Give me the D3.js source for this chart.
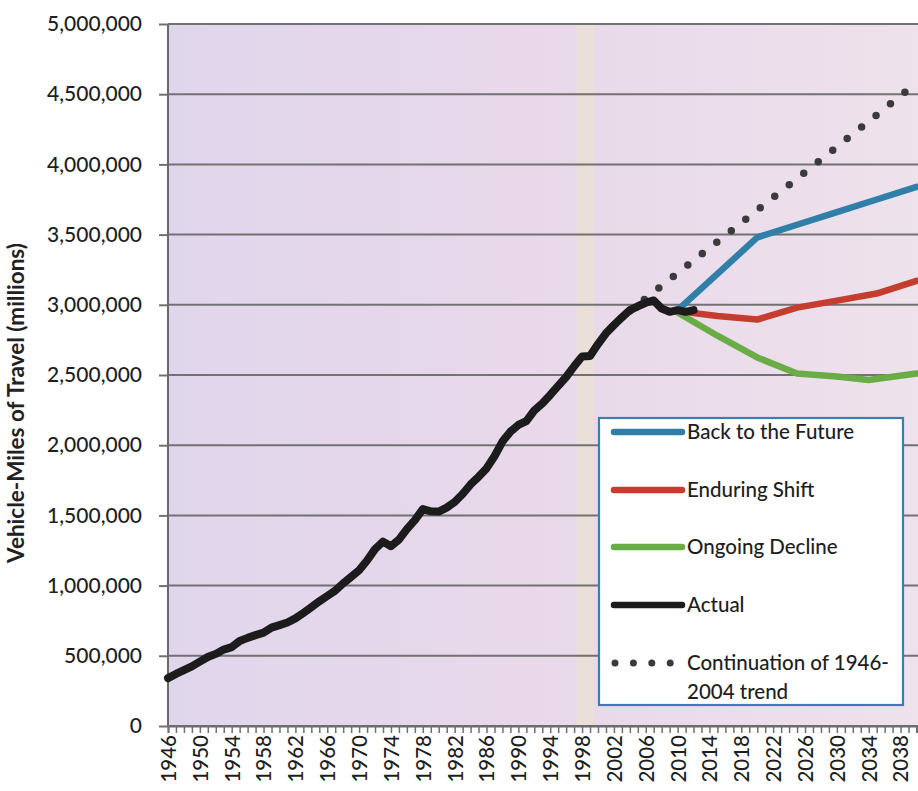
<!DOCTYPE html>
<html>
<head>
<meta charset="utf-8">
<script src="https://cdn.jsdelivr.net/npm/d3@7"></script>
<style>
  html, body { margin: 0; padding: 0; background: #ffffff; }
  svg { display: block; font-family: Lato, "Open Sans", sans-serif; }
</style>
</head>
<body>
<svg id="chart" width="918" height="791"></svg>
<script>
// Annual vehicle-miles of travel, United States (millions)
const actualYears = [
  1946, 1947, 1948, 1949, 1950, 1951, 1952, 1953, 1954, 1955,
  1956, 1957, 1958, 1959, 1960, 1961, 1962, 1963, 1964, 1965,
  1966, 1967, 1968, 1969, 1970, 1971, 1972, 1973, 1974, 1975,
  1976, 1977, 1978, 1979, 1980, 1981, 1982, 1983, 1984, 1985,
  1986, 1987, 1988, 1989, 1990, 1991, 1992, 1993, 1994, 1995,
  1996, 1997, 1998, 1999, 2000, 2001, 2002, 2003, 2004, 2005,
  2006, 2007, 2008, 2009, 2010, 2011, 2012
];
const actualValues = [
  340881, 370894, 397957, 424461, 458246, 491093, 513581, 544433, 561963, 605646,
  627843, 647004, 664653, 700480, 718762, 737421, 766734, 805249, 846298, 887812,
  925899, 964005, 1015869, 1061791, 1109724, 1178811, 1259786, 1313110, 1280544, 1327664,
  1402380, 1467027, 1544704, 1529133, 1527295, 1555308, 1595010, 1652788, 1720269, 1774826,
  1834872, 1921204, 2025962, 2096487, 2144362, 2172050, 2247151, 2296378, 2357588, 2422696,
  2485848, 2561695, 2631522, 2636000, 2720000, 2797287, 2855508, 2910000, 2962000, 2989430,
  3014371, 3031124, 2973000, 2950000, 2962000, 2950000, 2962000
];

// Scenario projections
const backYears = [2010, 2015, 2020, 2025, 2030, 2035, 2040];
const backValues = [2962000, 3220000, 3480000, 3570000, 3660000, 3750000, 3840000];

const shiftYears = [2010, 2015, 2020, 2025, 2030, 2035, 2040];
const shiftValues = [2955000, 2920000, 2895000, 2980000, 3030000, 3080000, 3170000];

const declineYears = [2010, 2015, 2020, 2025, 2030, 2034, 2040];
const declineValues = [2945000, 2780000, 2625000, 2510000, 2490000, 2465000, 2510000];

// Straight-line continuation of the 1946-2004 growth
const trendYears = [2004, 2010, 2020, 2030, 2040];
const trendValues = [2955000, 3225000, 3675000, 4125000, 4580000];

// Axis labels
const yTicks = [0, 500000, 1000000, 1500000, 2000000, 2500000, 3000000, 3500000, 4000000, 4500000, 5000000];
const xLabelYears = [1946, 1950, 1954, 1958, 1962, 1966, 1970, 1974, 1978, 1982, 1986, 1990,
                     1994, 1998, 2002, 2006, 2010, 2014, 2018, 2022, 2026, 2030, 2034, 2038];
const xTickYears = d3.range(1946, 2041);

const seriesNames = ["Back to the Future", "Enduring Shift", "Ongoing Decline", "Actual"];
const seriesColors = ["#2f7fa9", "#c43d2f", "#6aad47", "#1c1c1c"];
const trendName = ["Continuation of 1946-", "2004 trend"];

const svg = d3.select("#chart");

const plotLeft = 168, plotTop = 24, plotBottom = 726, plotRight = 930;
const x = d3.scaleLinear().domain([1946, 2040]).range([168, 916.5]);
const y = d3.scaleLinear().domain([0, 5000000]).range([plotBottom, plotTop]);

// Plot background
const defs = svg.append("defs");
const grad = defs.append("linearGradient").attr("id", "bg").attr("x1", "0").attr("x2", "1").attr("y1", "0").attr("y2", "0");
grad.append("stop").attr("offset", "0").attr("stop-color", "#e0d6ec");
grad.append("stop").attr("offset", "0.45").attr("stop-color", "#e8d8ea");
grad.append("stop").attr("offset", "1").attr("stop-color", "#eee2ec");

svg.append("rect")
  .attr("x", plotLeft).attr("y", plotTop)
  .attr("width", plotRight - plotLeft).attr("height", plotBottom - plotTop)
  .attr("fill", "url(#bg)");

// pale yellow column near the end of the 1990s
svg.append("rect")
  .attr("x", x(1997.3)).attr("y", plotTop)
  .attr("width", x(1999.5) - x(1997.3)).attr("height", plotBottom - plotTop)
  .attr("fill", "#f3eab2").attr("opacity", 0.3);

// Horizontal gridlines + y axis
const yAxis = d3.axisLeft(y)
  .tickValues(yTicks)
  .tickSize(9)
  .tickPadding(17)
  .tickFormat(d3.format(","));

const gy = svg.append("g").attr("transform", `translate(${plotLeft},0)`).call(yAxis);
gy.select(".domain").remove();
gy.selectAll(".tick line").attr("stroke", "#707070").attr("stroke-width", 2);
gy.selectAll(".tick text")
  .attr("fill", "#1e1e1e")
  .style("font-size", "21px")
  .style("font-weight", "500")
  .style("font-family", "Lato, 'Open Sans', sans-serif");

svg.append("g").selectAll("line").data(yTicks).join("line")
  .attr("x1", plotLeft).attr("x2", plotRight)
  .attr("y1", d => y(d)).attr("y2", d => y(d))
  .attr("stroke", "#727272").attr("stroke-width", 2);

svg.append("line")
  .attr("x1", plotLeft).attr("x2", plotLeft)
  .attr("y1", plotTop).attr("y2", plotBottom)
  .attr("stroke", "#6a6a6a").attr("stroke-width", 2);

// X axis: a tick for every year, labels every fourth year
const xAxis = d3.axisBottom(x)
  .tickValues(xTickYears)
  .tickSize(7)
  .tickFormat(d => xLabelYears.includes(d) ? String(d) : "");

const gx = svg.append("g").attr("transform", `translate(0,${plotBottom})`).call(xAxis);
gx.select(".domain").attr("stroke", "#6a6a6a").attr("stroke-width", 2);
gx.selectAll(".tick line").attr("stroke", "#707070").attr("stroke-width", 1.5);
gx.selectAll(".tick text")
  .attr("fill", "#1e1e1e")
  .style("font-size", "20.5px")
  .style("font-weight", "500")
  .style("font-family", "Lato, 'Open Sans', sans-serif")
  .attr("text-anchor", "end")
  .attr("transform", "rotate(-90)")
  .attr("x", -9)
  .attr("y", 0)
  .attr("dy", "0.36em");

// Y axis title
svg.append("text")
  .attr("transform", "translate(24,403) rotate(-90)")
  .attr("text-anchor", "middle")
  .attr("fill", "#222222")
  .style("font-size", "22.5px")
  .style("font-weight", "700")
  .text("Vehicle-Miles of Travel (millions)");

// Series
const line = d3.line().x(d => x(d[0])).y(d => y(d[1]));
const zip = (a, b) => a.map((v, i) => [v, b[i]]);

const plot = svg.append("g");

plot.append("path")
  .datum(zip(trendYears, trendValues))
  .attr("d", line)
  .attr("fill", "none")
  .attr("stroke", "#3b3b3b")
  .attr("stroke-width", 7.5)
  .attr("stroke-linecap", "round")
  .attr("stroke-dasharray", "0 18.5");

const projections = [
  zip(backYears, backValues),
  zip(shiftYears, shiftValues),
  zip(declineYears, declineValues)
];
projections.forEach((pts, i) => {
  plot.append("path")
    .datum(pts)
    .attr("d", line)
    .attr("fill", "none")
    .attr("stroke", seriesColors[i])
    .attr("stroke-width", 6.5)
    .attr("stroke-linejoin", "round")
    .attr("stroke-linecap", "round");
});

plot.append("path")
  .datum(zip(actualYears, actualValues))
  .attr("d", line)
  .attr("fill", "none")
  .attr("stroke", seriesColors[3])
  .attr("stroke-width", 8)
  .attr("stroke-linejoin", "round")
  .attr("stroke-linecap", "round");

// Legend
const lg = svg.append("g");
lg.append("rect")
  .attr("x", 599).attr("y", 418).attr("width", 304).attr("height", 287)
  .attr("fill", "#ffffff").attr("stroke", "#3a7fb3").attr("stroke-width", 2.2);

const rowY = [432, 490, 547, 605];
seriesNames.forEach((name, i) => {
  lg.append("line")
    .attr("x1", 614).attr("x2", 682)
    .attr("y1", rowY[i]).attr("y2", rowY[i])
    .attr("stroke", seriesColors[i]).attr("stroke-width", 6.5)
    .attr("stroke-linecap", "round");
  lg.append("text")
    .attr("x", 687).attr("y", rowY[i]).attr("dy", "0.35em")
    .attr("fill", "#1e1e1e")
    .style("font-size", "20.5px")
    .style("font-weight", "500")
    .text(name);
});
lg.append("line")
  .attr("x1", 615).attr("x2", 670.5)
  .attr("y1", 663).attr("y2", 663)
  .attr("stroke", "#3b3b3b").attr("stroke-width", 7)
  .attr("stroke-linecap", "round")
  .attr("stroke-dasharray", "0 18.4");
trendName.forEach((t, i) => {
  lg.append("text")
    .attr("x", 687).attr("y", 663 + i * 29).attr("dy", "0.35em")
    .attr("fill", "#1e1e1e")
    .style("font-size", "20.5px")
    .style("font-weight", "500")
    .text(t);
});
</script>
</body>
</html>
